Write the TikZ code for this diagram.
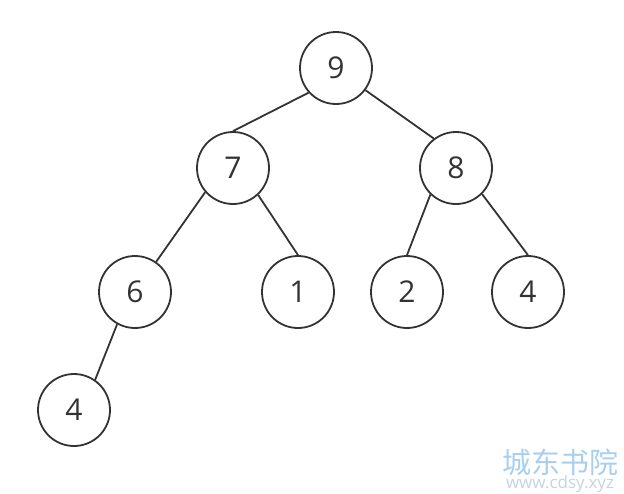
\documentclass[tikz,border=0pt]{standalone}
\usepackage{fontspec}
\setmainfont{Open Sans}
\newfontfamily\cjk{Noto Sans CJK SC}
\usetikzlibrary{calc}
\definecolor{ink}{HTML}{333333}
\definecolor{mark}{HTML}{A9CFF0}
\def\rad{36pt}

\begin{document}
\begin{tikzpicture}[x=1pt, y=-1pt,
    key/.style={circle, draw=ink, line width=1.8pt, minimum size=2*\rad, inner sep=0pt,
        text=ink, font=\fontsize{30}{30}\selectfont},
    link/.style={draw=ink, line width=1.8pt}]
    \useasboundingbox (0,0) rectangle (624,493);

    \node [key] (n9) at (336,68) {9};
    \node [key] (n7) at (233,168) {7};
    \node [key] (n8) at (456,168) {8};
    \node [key] (n6) at (135,292) {6};
    \node [key] (n1) at (298,292) {1};
    \node [key] (n2) at (407,292) {2};
    \node [key] (n4a) at (528,292) {4};
    \node [key] (n4b) at (74,410) {4};

    \draw [link] (n9.222) -- (n7.north);
    \draw [link] (n9.-37) -- (n8.127);
    \draw [link] (n7.221) -- (n6.55);
    \draw [link] (n7.-47) -- (n1.north);
    \draw [link] (n8.226) -- (n2.north);
    \draw [link] (n8.-45) -- (n4a.north);
    \draw [link] (n6.241) -- (n4b.55);

    \node [text=mark, font=\cjk\fontsize{29}{29}\selectfont, inner sep=0pt] (cdsy) at (560,462) {城东书院};
    \node [text=mark!70!gray!60, font=\fontsize{17}{17}\selectfont, inner sep=0pt] (url) at (560,484) {www.cdsy.xyz};
\end{tikzpicture}
\end{document}
